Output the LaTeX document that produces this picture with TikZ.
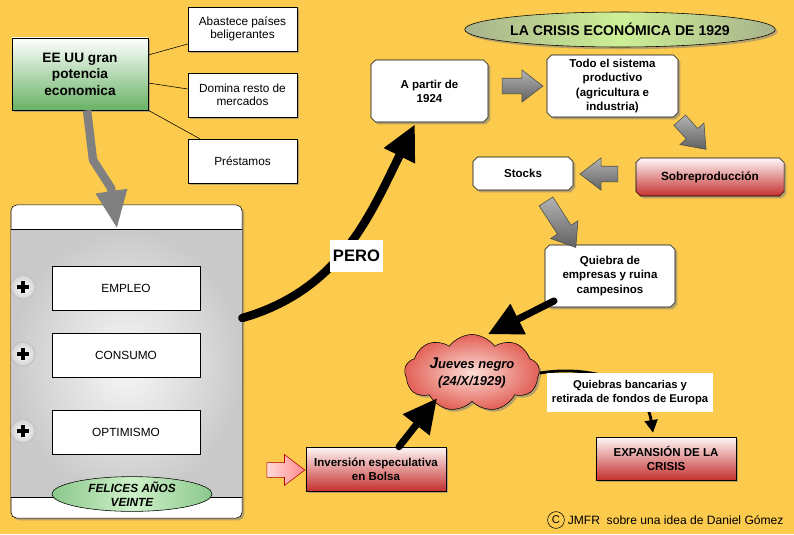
\documentclass[tikz,border=0pt]{standalone}
\usepackage{fontspec}
\setmainfont{Liberation Sans}
\usetikzlibrary{positioning,calc,shapes.geometric,shapes.misc,shapes.symbols,shapes.arrows,shadows,arrows.meta}
\definecolor{bgyellow}{RGB}{252,202,76}
\definecolor{boxred}{RGB}{196,48,46}
\definecolor{boxgreen}{RGB}{104,178,100}
\definecolor{titlegray}{RGB}{168,178,140}
\definecolor{titlegreen}{RGB}{205,240,150}
\definecolor{felicesdark}{RGB}{140,200,140}
\definecolor{feliceslight}{RGB}{205,240,200}
\definecolor{cloudred}{RGB}{226,96,86}
\definecolor{cloudlight}{RGB}{252,222,215}
\begin{document}
\begin{tikzpicture}[x=0.025cm, y=-0.025cm,
    shadowed/.style={drop shadow={opacity=0.55, shadow xshift=1.6pt, shadow yshift=-1.6pt}},
    plainbox/.style={draw, fill=white, align=center, inner sep=1pt, font=\fontsize{8.4}{9.6}\selectfont},
    chambox/.style={chamfered rectangle, chamfered rectangle xsep=1.6pt, chamfered rectangle ysep=1.6pt,
      draw, fill=white, shadowed, align=center, inner sep=1pt, font=\bfseries\fontsize{8.2}{10}\selectfont},
    redshade/.style={top color=red!3, bottom color=boxred},
    redbox/.style={draw, redshade, shadowed, align=center, inner sep=1pt, font=\bfseries\fontsize{8.2}{10.2}\selectfont},
    greyarrow/.style={single arrow, draw=black!70, top color=black!30, bottom color=black!62,
      inner sep=0pt, single arrow tip angle=75},
    plusmark/.style={circle, draw=gray!55, inner color=white, outer color=gray!35, minimum size=0.6cm, inner sep=0pt},
    thickarrow/.style={line width=5pt, line cap=round, -{Triangle[length=24pt, width=23pt]}},
  ]
    % Background
    \useasboundingbox (0,0) rectangle (794,534);
    \fill[bgyellow] (0,0) rectangle (794,534);
    % EE UU and its three features
    \node[draw, top color=white, bottom color=boxgreen, shadowed, minimum width=3.4cm, minimum height=1.8cm,
      align=center, font=\bfseries\fontsize{9.7}{11.8}\selectfont] (eeuu) at (80,74) {EE UU gran\\potencia\\economica};
    \node[plainbox, shadowed, minimum width=2.725cm, minimum height=1.1cm] (abastece) at (242.5,29) {Abastece países\\beligerantes};
    \node[plainbox, shadowed, minimum width=2.725cm, minimum height=1.1cm] (domina) at (242.5,95) {Domina resto de\\mercados};
    \node[plainbox, shadowed, minimum width=2.725cm, minimum height=1.1cm] (prestamos) at (242.5,161) {Préstamos};
    \draw ($(eeuu.east)+(0,-19)$) -- ($(abastece.west)+(0,15)$);
    \draw ($(eeuu.east)+(0,9)$) -- ($(domina.west)+(0,-6)$);
    \draw (eeuu.south east) -- ($(prestamos.north west)+(12,0)$);
    % Panel of the twenties
    \node[draw, fill=white, rounded corners=4pt, shadowed, minimum width=5.775cm, minimum height=7.825cm] (panel) at (126.5,361.5) {};
    \shade[inner color=gray!6, outer color=gray!42] ($(panel.north west)+(0.7,25)$) rectangle ($(panel.south east)+(-0.7,-21)$);
    \draw ($(panel.north west)+(0,25)$) -- ($(panel.north east)+(0,25)$);
    \draw ($(panel.south west)+(0,-21)$) -- ($(panel.south east)+(0,-21)$);
    \node[plainbox, minimum width=3.7cm, minimum height=1.1cm] (empleo) at (126,288) {EMPLEO};
    \node[plainbox, minimum width=3.7cm, minimum height=1.1cm] (consumo) at (126,355) {CONSUMO};
    \node[plainbox, minimum width=3.7cm, minimum height=1.1cm] (optimismo) at (126,432) {OPTIMISMO};
    \node[plusmark] (p1) at (23,287) {};
    \node[plusmark] (p2) at (23,354) {};
    \node[plusmark] (p3) at (23,431) {};
    \foreach \p in {p1,p2,p3}
      \draw[line width=2.3pt] ($(\p)+(-6,0)$) -- ($(\p)+(6,0)$) ($(\p)+(0,-6)$) -- ($(\p)+(0,6)$);
    \node[ellipse, draw, left color=felicesdark, right color=felicesdark, middle color=feliceslight,
      minimum width=4cm, minimum height=0.75cm, inner sep=0pt, align=center,
      font=\bfseries\itshape\fontsize{8.4}{10}\selectfont] (felices) at (132,494) {FELICES AÑOS\\VEINTE};
    % Grey arrow into the panel
    \draw[gray, line width=6pt, line join=round, -{Triangle[length=27pt, width=21pt]}]
      ($(eeuu.south)+(7,0)$) -- (93,160) -- (111,188) -- ($(panel.north)+(-9.5,24)$);
    % Title
    \node[ellipse, draw, shadowed, left color=titlegray, right color=titlegray, middle color=titlegreen,
      minimum width=7.35cm, minimum height=0.875cm, inner sep=0pt,
      font=\bfseries\fontsize{10}{12}\selectfont] (title) at (620,29.5) {LA CRISIS ECONÓMICA DE 1929};
    % Chain of the crisis
    \node[chambox, minimum width=2.925cm, minimum height=1.55cm] (apartir) at (429.5,91) {A partir de\\1924};
    \node[chambox, minimum width=3.275cm, minimum height=1.55cm] (sistema) at (612.5,86) {Todo el sistema\\productivo\\(agricultura e\\industria)};
    \node[chambox, redshade, minimum width=3.7cm, minimum height=0.95cm, font=\bfseries\fontsize{8.4}{10}\selectfont] (sobre) at (710,177) {Sobreproducción};
    \node[chambox, minimum width=2.5cm, minimum height=0.825cm] (stocks) at (523,173.5) {Stocks};
    \node[chambox, minimum width=3.25cm, minimum height=1.55cm] (quiebra) at (610,276) {Quiebra de\\empresas y ruina\\campesinos};
    \node[greyarrow, minimum height=29pt, inner ysep=5.3pt, single arrow head extend=6pt] (g1) at (517.5,86) {};
    \node[greyarrow, minimum height=28pt, inner ysep=5.3pt, single arrow head extend=6pt, rotate=-48] (g2) at (689.5,131) {};
    \node[greyarrow, minimum height=27pt, inner ysep=5.3pt, single arrow head extend=6pt, rotate=180] (g3) at (604,174) {};
    \node[greyarrow, minimum height=39pt, inner ysep=5.6pt, single arrow head extend=5.8pt, rotate=-57] (g4) at (558,220) {};
    % Black Thursday
    \node[cloud, cloud puffs=9, cloud puff arc=110, cloud ignores aspect, draw, inner color=cloudlight, outer color=cloudred,
      shadowed, minimum width=3.225cm, minimum height=1.925cm, align=center,
      font=\bfseries\itshape\fontsize{9.2}{11.5}\selectfont] (jueves) at (472,373) {{\fontsize{11}{12}\selectfont J}ueves negro\\(24/X/1929)};
    \node[redbox, minimum width=3.5cm, minimum height=1.1cm] (inversion) at (376,469) {Inversión especulativa\\en Bolsa};
    \node[redbox, minimum width=3.5cm, minimum height=1.075cm] (expansion) at (666,458.5) {EXPANSIÓN DE LA\\CRISIS};
    \node[single arrow, draw=red!70!black, left color=red!15, right color=red!45, inner sep=0pt, inner ysep=5pt,
      single arrow head extend=5.7pt, minimum height=27pt, single arrow tip angle=74] (pink) at (281,470) {};
    % Black connectors
    \draw[line width=6pt, line cap=round, -{Triangle[length=25pt, width=23pt]}]
      ($(panel.east)+(0,-43.5)$) .. controls (340,290) and (370,215) .. ($(apartir.south)+(-14.5,2)$);
    \node[fill=white, minimum width=1.325cm, minimum height=0.8cm, inner sep=1pt,
      font=\bfseries\fontsize{11.8}{14}\selectfont] (pero) at (356.5,256) {PERO};
    \draw[thickarrow] ($(quiebra.south west)+(7,-4)$) -- ($(jueves.north)+(16,0)$);
    \draw[thickarrow] ($(inversion.north)+(23,0)$) -- ($(jueves.south)+(-35,-3.5)$);
    \draw[line width=2pt, -{Triangle[length=9pt, width=9pt]}]
      (jueves.east) .. controls (590,365) and (645,380) .. ($(expansion.north)+(-13,-4)$);
    \node[fill=white, minimum width=4.15cm, minimum height=0.975cm, inner sep=1pt, align=center,
      font=\bfseries\fontsize{8}{10}\selectfont] (bancos) at (630,392.5) {Quiebras bancarias y\\retirada de fondos de Europa};
    % Credit
    \node[draw, circle, inner sep=0pt, minimum size=0.42cm, font=\fontsize{8}{9}\selectfont] (copy) at (556,520) {C};
    \node[right=1pt of copy, inner sep=1pt, font=\fontsize{8.6}{10}\selectfont] (credit) {JMFR\ \ sobre una idea de Daniel Gómez};
\end{tikzpicture}
\end{document}
